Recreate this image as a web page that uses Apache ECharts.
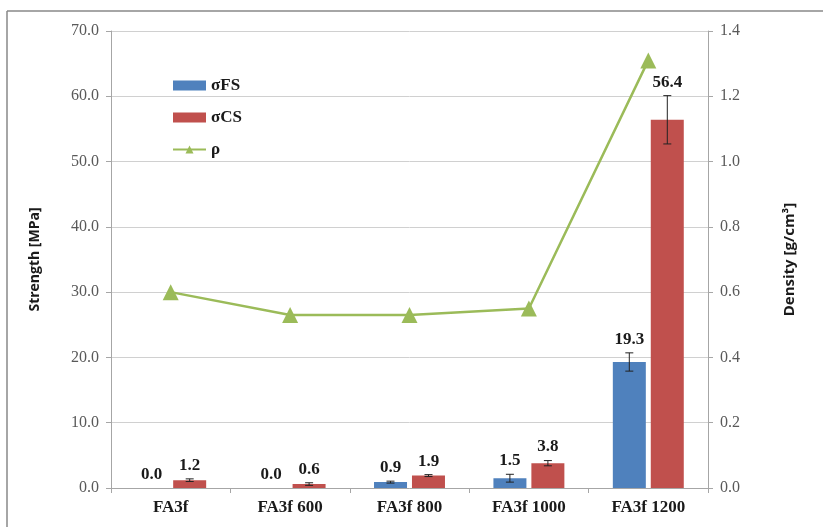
<!DOCTYPE html>
<html>
<head>
<meta charset="utf-8">
<script src="https://cdn.jsdelivr.net/npm/echarts@6/dist/echarts.min.js"></script>
<style>html,body{margin:0;padding:0;background:#fff}#c{width:823px;height:527px}</style>
</head>
<body>
<div id="c"></div>
<script>
const categories = ['FA3f', 'FA3f 600', 'FA3f 800', 'FA3f 1000', 'FA3f 1200'];
const sigmaFS = [0.0, 0.0, 0.9, 1.5, 19.3];
const sigmaFSErr = [0, 0, 0.15, 0.6, 1.4];
const sigmaCS = [1.2, 0.6, 1.9, 3.8, 56.4];
const sigmaCSErr = [0.2, 0.2, 0.15, 0.4, 3.7];
const density = [0.60, 0.53, 0.53, 0.55, 1.31];
const leftTicks = [0, 70, 10];
const rightTicks = [0, 1.4, 0.2];

const BLUE = '#4F81BD', RED = '#C0504D', GREEN = '#9BBB59';
const BAR_W = 33, GAP = 5;
const serif = '"Liberation Serif", "Times New Roman", serif';

function errSeries(vals, errs, sign, name) {
  return {
    type: 'custom', name: name, yAxisIndex: 0, z: 5,
    data: vals.map((v, i) => [i, v, errs[i]]),
    renderItem: function (params, api) {
      const i = api.value(0), v = api.value(1), e = api.value(2);
      const off = sign * (BAR_W + GAP) / 2;
      const c = api.coord([i, v]);
      const x = c[0] + off;
      const top = api.coord([i, v + e])[1];
      const bot = api.coord([i, Math.max(0, v - e)])[1];
      const children = [];
      if (e > 0) {
        const st = { stroke: '#222', lineWidth: 1 };
        children.push({ type: 'line', shape: { x1: x, y1: top, x2: x, y2: bot }, style: st });
        children.push({ type: 'line', shape: { x1: x - 4, y1: top, x2: x + 4, y2: top }, style: st });
        children.push({ type: 'line', shape: { x1: x - 4, y1: bot, x2: x + 4, y2: bot }, style: st });
      }
      const ly = Math.min(top, c[1]) - 5;
      children.push({ type: 'text', style: { x: x, y: ly, text: v.toFixed(1), textAlign: 'center', textVerticalAlign: 'bottom', font: 'bold 17px ' + serif, fill: '#1a1a1a' } });
      return { type: 'group', children: children };
    }
  };
}

const chart = echarts.init(document.getElementById('c'));
chart.setOption({
  animation: false,
  graphic: [
    { type: 'line', shape: { x1: 7, y1: 11, x2: 823, y2: 11 }, style: { stroke: '#888', lineWidth: 1.5 } },
    { type: 'line', shape: { x1: 7, y1: 11, x2: 7, y2: 527 }, style: { stroke: '#888', lineWidth: 1.5 } }
  ],
  grid: { left: 111, right: 115, top: 31, bottom: 39 },
  legend: {
    orient: 'vertical', left: 167, top: 72, itemGap: 15, itemWidth: 33, itemHeight: 10,
    textStyle: { fontFamily: serif, fontWeight: 'bold', fontSize: 17, color: '#1a1a1a' },
    data: [
      { name: 'σFS', icon: 'rect' },
      { name: 'σCS', icon: 'rect' },
      { name: 'ρ' }
    ]
  },
  xAxis: {
    type: 'category', data: categories,
    axisLine: { lineStyle: { color: '#a6a6a6' } },
    axisTick: { show: true, length: 5, lineStyle: { color: '#a6a6a6' } },
    axisLabel: { fontFamily: serif, fontWeight: 'bold', fontSize: 17, color: '#1a1a1a', margin: 11 }
  },
  yAxis: [
    {
      type: 'value', min: leftTicks[0], max: leftTicks[1], interval: leftTicks[2],
      name: 'Strength [MPa]', nameLocation: 'middle', nameGap: 69, nameRotate: 90,
      nameTextStyle: { fontFamily: '"Open Sans", sans-serif', fontWeight: 'bold', fontSize: 14, color: '#1a1a1a' },
      axisLine: { show: true, lineStyle: { color: '#a6a6a6' } },
      axisTick: { show: true, length: 5, lineStyle: { color: '#a6a6a6' } },
      axisLabel: { formatter: v => v.toFixed(1), fontFamily: serif, fontSize: 16, color: '#595959', margin: 12 },
      splitLine: { lineStyle: { color: '#d0d0d0' } }
    },
    {
      type: 'value', min: rightTicks[0], max: rightTicks[1], interval: rightTicks[2],
      name: 'Density [g/cm³]', nameLocation: 'middle', nameGap: 74, nameRotate: 90,
      nameTextStyle: { fontFamily: '"Open Sans", sans-serif', fontWeight: 'bold', fontSize: 15, color: '#1a1a1a' },
      axisLine: { show: true, lineStyle: { color: '#a6a6a6' } },
      axisTick: { show: true, length: 5, lineStyle: { color: '#a6a6a6' } },
      axisLabel: { formatter: v => v.toFixed(1), fontFamily: serif, fontSize: 16, color: '#595959', margin: 12 },
      splitLine: { show: false }
    }
  ],
  series: [
    { name: 'σFS', type: 'bar', data: sigmaFS, barWidth: BAR_W, barGap: '15%', itemStyle: { color: BLUE } },
    { name: 'σCS', type: 'bar', data: sigmaCS, barWidth: BAR_W, itemStyle: { color: RED } },
    errSeries(sigmaFS, sigmaFSErr, -1, 'errFS'),
    errSeries(sigmaCS, sigmaCSErr, 1, 'errCS'),
    {
      name: 'ρ', type: 'line', yAxisIndex: 1, data: density, z: 6,
      symbol: 'triangle', symbolSize: 16, showAllSymbol: true,
      lineStyle: { color: GREEN, width: 2.5 }, itemStyle: { color: GREEN }
    }
  ]
});
</script>
</body>
</html>
